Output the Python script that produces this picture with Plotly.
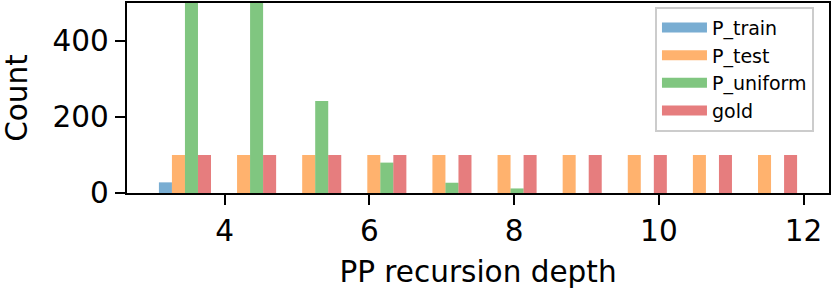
import plotly.graph_objects as go

# histogram bins: 10 bins from 3 to 12 (matplotlib default), width 0.9
bin_edges = [3.0, 3.9, 4.8, 5.7, 6.6, 7.5, 8.4, 9.3, 10.2, 11.1, 12.0]
bin_centers = [(a + b) / 2 for a, b in zip(bin_edges[:-1], bin_edges[1:])]

series_names = ["P_train", "P_test", "P_uniform", "gold"]
p_train = [28, 0, 0, 0, 0, 0, 0, 0, 0, 0]
p_test = [100, 100, 100, 100, 100, 100, 100, 100, 100, 100]
p_uniform = [560, 540, 242, 80, 27, 12, 0, 0, 0, 0]
gold = [100, 100, 100, 100, 100, 100, 100, 100, 100, 100]
series_values = [p_train, p_test, p_uniform, gold]

colors = ["rgba(31,119,180,0.6)", "rgba(255,127,14,0.6)",
          "rgba(44,160,44,0.6)", "rgba(214,39,40,0.6)"]

x_ticks = [4, 6, 8, 10, 12]
y_ticks = [0, 200, 400]

FONT = "DejaVu Sans"

fig = go.Figure()
for name, vals, col in zip(series_names, series_values, colors):
    fig.add_trace(go.Bar(x=bin_centers, y=vals, name=name, marker_color=col,
                         marker_line_width=0, showlegend=False))
# legend entries (wide patches like matplotlib)
for name, col in zip(series_names, colors):
    fig.add_trace(go.Scatter(x=[None], y=[None], mode="lines", name=name,
                             line=dict(color=col, width=13)))

axis_common = dict(showline=True, linecolor="black", linewidth=2.4, mirror=True,
                   ticks="outside", ticklen=10, tickwidth=2.4, tickcolor="black",
                   showgrid=False, zeroline=False, automargin=False,
                   tickfont=dict(family=FONT, size=29.5, color="black"))

fig.update_layout(
    width=832, height=292,
    margin=dict(l=127, r=3, t=3, b=99),
    paper_bgcolor="white", plot_bgcolor="white",
    barmode="group", bargap=0.2, bargroupgap=0,
    font=dict(family=FONT, color="black"),
    xaxis=dict(range=[2.649, 12.351], tickvals=x_ticks,
               title=dict(text="PP recursion depth", standoff=15,
                          font=dict(family=FONT, size=29.5, color="black")),
               **axis_common),
    yaxis=dict(range=[0, 500], tickvals=y_ticks,
               title=dict(text="Count", standoff=20,
                          font=dict(family=FONT, size=29.5, color="black")),
               **axis_common),
    legend=dict(x=0.9786, y=0.981, xanchor="right", yanchor="top",
                bgcolor="rgba(255,255,255,0.8)", bordercolor="#cccccc",
                borderwidth=2, itemwidth=45,
                font=dict(family=FONT, size=19, color="black"),
                tracegroupgap=0),
)

fig.write_html("out.html", post_script="document.body.style.margin='0';",
               config={"displayModeBar": False})
